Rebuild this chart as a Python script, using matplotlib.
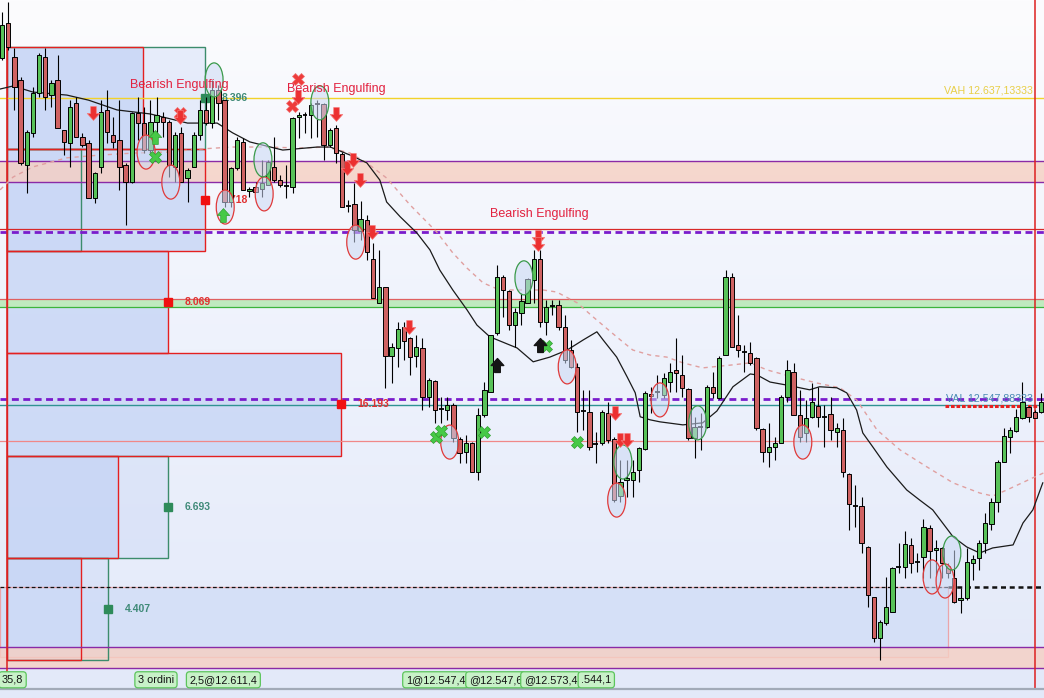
import numpy as np
import matplotlib.pyplot as plt
from matplotlib.colors import LinearSegmentedColormap
from matplotlib.patches import Rectangle, Ellipse
from matplotlib.path import Path

plt.rcParams['font.family'] = ['Liberation Sans', 'DejaVu Sans']

# ---- candles (one per bar, price) ----
opens = [
    12649.0, 12659.4, 12649.3, 12642.5, 12617.3, 12626.8, 12638.6, 12649.3, 12638.0, 12642.5,
    12627.7, 12623.8, 12635.7, 12625.6, 12623.8, 12607.5, 12616.7, 12633.6, 12626.2, 12624.7,
    12617.3, 12612.2, 12632.7, 12629.7, 12621.7, 12630.0, 12631.5, 12630.0, 12616.7, 12626.8,
    12613.4, 12616.7, 12626.2, 12633.6, 12629.7, 12639.5, 12636.5, 12606.3, 12616.4, 12624.1,
    12609.6, 12610.8, 12610.2, 12611.3, 12616.7, 12612.8, 12611.1, 12610.8, 12631.5, 12632.1,
    12632.1, 12635.4, 12635.4, 12623.2, 12628.2, 12620.5, 12605.1, 12605.7, 12597.7, 12601.0,
    12589.4, 12576.4, 12581.1, 12560.6, 12563.0, 12569.2, 12566.0, 12560.6, 12563.0, 12548.5,
    12553.2, 12544.9, 12544.6, 12546.1, 12536.0, 12532.2, 12534.9, 12526.3, 12543.2, 12550.0,
    12567.5, 12584.1, 12579.9, 12569.8, 12573.4, 12576.4, 12583.2, 12589.4, 12570.7, 12575.5,
    12575.8, 12569.2, 12562.4, 12557.4, 12544.3, 12544.0, 12534.6, 12534.9, 12543.7, 12536.0,
    12519.1, 12523.9, 12523.9, 12526.8, 12533.1, 12549.4, 12550.0, 12549.1, 12552.9, 12556.5,
    12555.0, 12550.9, 12536.3, 12539.6, 12539.6, 12551.5, 12548.2, 12560.9, 12584.1, 12563.9,
    12561.8, 12561.5, 12560.1, 12539.0, 12532.2, 12533.7, 12534.9, 12548.5, 12555.9, 12543.2,
    12537.8, 12542.6, 12545.8, 12542.6, 12543.4, 12538.1, 12538.7, 12525.7, 12516.2, 12516.2,
    12504.0, 12489.2, 12477.0, 12481.5, 12484.7, 12498.1, 12498.1, 12504.6, 12499.6, 12501.0,
    12509.6, 12503.1, 12503.7, 12498.4, 12494.8, 12488.3, 12488.9, 12499.3, 12500.8, 12505.2,
    12510.8, 12517.4, 12529.2, 12536.6, 12538.4, 12542.3, 12545.5, 12544.0, 12544.0,
]
highs = [
    12662.6, 12665.6, 12652.0, 12643.4, 12627.7, 12640.4, 12650.5, 12652.0, 12642.5, 12649.9,
    12627.7, 12636.5, 12637.4, 12626.8, 12624.7, 12615.2, 12636.5, 12639.5, 12631.5, 12636.5,
    12617.9, 12633.0, 12637.4, 12634.5, 12636.5, 12637.4, 12633.0, 12630.6, 12627.1, 12628.5,
    12616.4, 12627.1, 12636.5, 12637.4, 12642.5, 12641.0, 12636.5, 12616.7, 12625.6, 12625.3,
    12610.8, 12612.2, 12618.8, 12618.8, 12625.6, 12614.3, 12617.3, 12631.5, 12633.0, 12633.0,
    12635.7, 12636.5, 12635.7, 12628.2, 12629.1, 12621.1, 12606.9, 12611.9, 12606.6, 12602.5,
    12594.2, 12592.1, 12581.1, 12564.5, 12570.7, 12570.7, 12566.3, 12566.9, 12566.0, 12554.1,
    12553.5, 12548.5, 12548.5, 12546.7, 12536.6, 12537.2, 12535.1, 12545.2, 12552.9, 12566.9,
    12587.6, 12584.7, 12580.2, 12574.9, 12579.3, 12583.8, 12592.1, 12592.1, 12577.2, 12577.2,
    12577.2, 12572.8, 12565.4, 12558.6, 12550.6, 12550.6, 12538.1, 12544.6, 12547.0, 12536.6,
    12529.8, 12529.8, 12529.8, 12533.7, 12550.3, 12551.5, 12555.0, 12555.6, 12558.6, 12566.0,
    12560.9, 12551.2, 12542.6, 12543.7, 12552.0, 12555.9, 12560.6, 12586.1, 12585.3, 12572.8,
    12563.9, 12564.8, 12560.3, 12539.3, 12540.8, 12536.6, 12549.1, 12559.5, 12558.6, 12550.6,
    12547.6, 12552.6, 12551.5, 12546.1, 12548.5, 12540.8, 12542.3, 12526.0, 12522.4, 12518.8,
    12504.3, 12489.2, 12482.4, 12495.1, 12498.1, 12505.2, 12508.8, 12506.7, 12502.2, 12512.3,
    12510.5, 12506.1, 12504.0, 12499.3, 12503.1, 12491.9, 12503.7, 12501.6, 12506.1, 12514.1,
    12518.5, 12529.8, 12539.3, 12539.6, 12544.9, 12552.9, 12545.8, 12544.6, 12549.7,
]
lows = [
    12648.4, 12651.4, 12633.6, 12617.3, 12609.0, 12625.6, 12637.4, 12633.6, 12634.5, 12628.2,
    12620.2, 12616.7, 12625.6, 12622.6, 12607.5, 12606.0, 12614.9, 12623.8, 12622.3, 12609.9,
    12599.5, 12611.9, 12624.7, 12620.8, 12620.8, 12624.7, 12625.6, 12613.7, 12612.2, 12612.2,
    12606.3, 12616.7, 12624.7, 12629.1, 12628.2, 12630.6, 12604.8, 12604.8, 12615.8, 12609.9,
    12607.8, 12609.3, 12607.8, 12611.3, 12612.2, 12610.8, 12607.5, 12609.0, 12625.3, 12626.8,
    12625.3, 12625.6, 12618.8, 12622.6, 12617.9, 12604.8, 12603.3, 12594.4, 12595.0, 12589.1,
    12577.8, 12576.4, 12551.2, 12552.6, 12557.4, 12559.5, 12555.0, 12557.4, 12544.6, 12545.5,
    12540.8, 12540.8, 12541.7, 12535.1, 12528.9, 12528.9, 12526.3, 12523.9, 12542.6, 12550.0,
    12566.9, 12572.2, 12568.4, 12563.3, 12569.8, 12576.4, 12576.4, 12569.2, 12566.9, 12572.8,
    12568.4, 12558.6, 12557.1, 12538.1, 12538.7, 12532.8, 12528.9, 12534.3, 12534.9, 12517.4,
    12517.4, 12518.8, 12518.8, 12523.3, 12532.8, 12543.7, 12548.2, 12548.2, 12550.0, 12550.0,
    12548.5, 12535.7, 12530.4, 12532.8, 12539.3, 12548.2, 12547.9, 12560.9, 12563.3, 12560.3,
    12555.9, 12558.0, 12538.7, 12529.2, 12527.7, 12529.8, 12534.9, 12547.0, 12543.2, 12535.1,
    12535.1, 12542.3, 12539.6, 12533.7, 12535.7, 12533.7, 12524.8, 12509.1, 12509.9, 12502.2,
    12486.2, 12475.8, 12470.5, 12480.9, 12484.7, 12496.3, 12494.8, 12496.3, 12496.6, 12494.8,
    12494.8, 12495.7, 12494.8, 12494.8, 12487.4, 12484.4, 12488.3, 12494.2, 12497.2, 12502.2,
    12509.1, 12514.4, 12529.2, 12531.9, 12538.1, 12542.0, 12541.1, 12542.3, 12543.7,
]
closes = [
    12658.8, 12652.3, 12640.4, 12617.9, 12627.1, 12638.6, 12649.9, 12637.4, 12641.6, 12628.2,
    12624.1, 12634.5, 12625.6, 12623.2, 12607.5, 12614.9, 12633.0, 12627.1, 12624.1, 12616.7,
    12612.2, 12632.7, 12629.7, 12621.7, 12630.0, 12632.1, 12630.0, 12617.3, 12626.2, 12612.2,
    12615.8, 12626.2, 12633.6, 12629.7, 12639.5, 12635.7, 12606.3, 12616.4, 12624.7, 12609.9,
    12610.2, 12609.3, 12611.9, 12618.2, 12612.8, 12611.3, 12611.1, 12631.2, 12632.1, 12632.1,
    12635.1, 12635.4, 12623.2, 12627.7, 12620.8, 12604.8, 12605.1, 12598.0, 12601.3, 12591.5,
    12577.8, 12581.1, 12560.6, 12563.3, 12568.7, 12565.1, 12560.3, 12563.3, 12548.5, 12553.5,
    12544.6, 12544.9, 12546.1, 12536.3, 12531.9, 12534.9, 12526.3, 12543.2, 12550.6, 12566.9,
    12584.1, 12580.2, 12569.8, 12573.7, 12577.0, 12583.5, 12589.4, 12570.7, 12575.2, 12575.5,
    12569.2, 12559.5, 12557.4, 12544.0, 12544.3, 12533.7, 12534.9, 12544.0, 12535.7, 12517.9,
    12523.3, 12524.5, 12526.3, 12533.4, 12549.7, 12548.8, 12550.0, 12554.1, 12555.9, 12555.6,
    12551.2, 12536.3, 12539.6, 12539.6, 12551.5, 12549.7, 12560.1, 12584.1, 12563.3, 12562.4,
    12561.8, 12558.6, 12539.3, 12532.2, 12533.7, 12534.9, 12548.5, 12556.5, 12543.2, 12536.6,
    12542.3, 12547.0, 12542.6, 12542.6, 12538.7, 12539.3, 12526.3, 12516.8, 12516.2, 12505.2,
    12489.8, 12477.0, 12481.8, 12486.2, 12497.8, 12498.1, 12504.9, 12499.3, 12499.6, 12509.9,
    12502.8, 12503.7, 12499.3, 12496.3, 12487.7, 12488.9, 12499.6, 12500.5, 12505.2, 12511.1,
    12517.4, 12529.2, 12536.9, 12538.7, 12542.6, 12547.0, 12542.6, 12542.3, 12547.0,
]

# ---- moving averages (bar index, price) ----
fast_ma_bar = [-0.3, 1.8, 5.0, 10.5, 14.0, 18.6, 24.0, 30.0, 34.8, 37.3, 40.1, 45.4, 51.0, 53.1,
               56.3, 59.0, 61.1, 62.2, 64.4, 67.1, 69.2, 70.8, 72.9, 75.2, 76.8, 78.9, 83.3, 85.9,
               88.6, 91.4, 94.0, 96.2, 97.2, 99.4, 101.1, 102.4, 103.2, 104.8, 106.4, 110.1, 113.3,
               115.6, 118.2, 121.0, 122.1, 124.2, 126.9, 130.6, 132.2, 135.0, 136.6, 138.2, 139.2,
               140.8, 143.1, 146.3, 148.4, 150.5, 153.8, 156.0, 158.1, 160.2, 163.5, 165.1, 166.7, 168.3]
fast_ma = [12639.8, 12640.7, 12638.9, 12638.0, 12636.5, 12633.6, 12632.4, 12629.7, 12629.7, 12626.8,
           12624.1, 12621.7, 12622.6, 12622.6, 12620.2, 12617.9, 12612.8, 12606.3, 12601.9, 12597.1,
           12592.1, 12586.1, 12580.2, 12574.3, 12569.8, 12566.3, 12563.0, 12558.9, 12560.3, 12562.4,
           12565.4, 12567.8, 12565.4, 12560.3, 12554.4, 12549.7, 12542.6, 12541.7, 12541.1, 12540.2,
           12540.8, 12544.3, 12551.5, 12555.3, 12555.0, 12552.9, 12552.0, 12550.6, 12551.5, 12551.2,
           12549.7, 12544.6, 12537.8, 12533.7, 12527.7, 12520.9, 12517.9, 12515.0, 12507.0, 12504.0,
           12502.2, 12503.7, 12504.6, 12511.1, 12515.0, 12523.0]
slow_ma_bar = [-0.3, 1.8, 5.0, 10.5, 15.8, 21.2, 26.7, 32.0, 37.3, 42.8, 48.2, 52.5, 56.3, 59.0,
               62.2, 66.0, 70.3, 72.9, 75.2, 77.8, 80.5, 84.2, 87.5, 89.7, 93.0, 95.6, 99.4, 102.0,
               104.8, 107.5, 110.1, 113.3, 118.2, 121.0, 123.7, 127.9, 131.8, 135.5, 138.2, 141.5,
               145.2, 149.6, 153.8, 158.1, 160.2, 162.5, 166.7, 168.5]
slow_ma = [12609.9, 12613.7, 12616.7, 12619.4, 12620.2, 12620.8, 12621.1, 12622.0, 12622.6, 12622.6,
           12622.3, 12622.6, 12620.8, 12617.9, 12613.4, 12605.4, 12597.4, 12591.2, 12586.7, 12582.3,
           12580.2, 12580.2, 12580.2, 12579.6, 12576.4, 12572.2, 12566.3, 12562.4, 12560.9, 12560.3,
           12558.6, 12557.1, 12558.0, 12558.6, 12556.5, 12554.4, 12552.6, 12551.2, 12547.6, 12538.7,
           12532.8, 12527.7, 12523.0, 12520.0, 12519.1, 12520.9, 12524.5, 12526.0]

# ---- levels ----
vah = 12637.13333
val = 12547.88333
supply_zone = (12612.2, 12618.5)
demand_zone = (12575.2, 12577.5)
low_zone = (12468.1, 12474.4)
red_level_hi = 12598.3
dashed_level_hi = 12597.4
poc_level = 12546.1
red_level_lo = 12535.4
black_dashed_level = 12492.2
value_box_bottom = 12471.4

# ---- session volume profile ----
row_edges = [12652.3, 12622.0, 12591.7, 12561.4, 12531.1, 12500.8, 12470.5]
sell_vol = [6.6, 9.6, 7.8, 16.2, 5.4, 3.6]
buy_vol = [9.6, 3.6, 0, 0, 7.8, 4.9]
sell_labels = [None, '8.718', '8.069', '16.193', None, None]
buy_labels = ['8.396', None, None, None, '6.693', '4.407']

# ---- signals (bar index, price) ----
sell_arrow_bar = [14.7, 28.8, 47.9, 54.0, 55.8, 56.7, 57.9, 59.8, 65.8, 86.7, 86.7, 99.1, 99.9, 101.1]
sell_arrow_px = [12632.7, 12631.5, 12637.4, 12632.4, 12616.4, 12618.8, 12612.8, 12597.4, 12569.2,
                 12595.9, 12593.9, 12543.7, 12535.7, 12535.7]
sell_cross_bar = [28.8, 47.9, 46.9]
sell_cross_px = [12632.7, 12642.8, 12634.8]
buy_arrow_bar = [24.7, 35.7]
buy_arrow_px = [12625.6, 12602.5]
buy_cross_bar = [24.7, 70.2, 71.0, 77.9, 88.0, 93.0]
buy_cross_px = [12619.7, 12536.6, 12538.4, 12538.1, 12563.6, 12535.1]
black_arrow_bar = [80.0, 87.0]
black_arrow_px = [12558.0, 12563.9]
red_circle_bar = [23.3, 27.3, 36.1, 42.4, 57.2, 72.4, 91.4, 99.4, 106.4, 129.5, 150.4, 152.5]
red_circle_px = [12621.1, 12612.2, 12604.8, 12608.7, 12594.4, 12535.1, 12557.4, 12517.9, 12547.6,
                 12535.1, 12495.1, 12493.9]
green_circle_bar = [34.3, 42.2, 51.4, 84.4, 100.4, 112.5, 153.6]
green_circle_px = [12642.5, 12618.8, 12635.7, 12583.8, 12529.2, 12540.8, 12502.2]
pattern_bar = [20.7, 46.1, 78.9]
pattern_px = [12641.0, 12639.8, 12602.8]
pattern_name = 'Bearish Engulfing'

# ---- order tags along the bottom ----
order_text = ['35,8', '3 ordini', '2,5@12.611,4', '1@12.547,4', '@12.547,6', '@12.573,4', '.544,1']
order_bar = [1.7, 24.9, 35.8, 70.1, 79.8, 88.7, 96.1]

# ---------------------------------------------------------------
x_lo, x_hi = -0.32, 168.5
y_lo, y_hi = 12459.2, 12666.2
bars = np.arange(len(opens))

fig = plt.figure(figsize=(10.44, 6.98), dpi=100)
ax = fig.add_axes([0, 0, 1, 1])
ax.axis('off')

# background gradient
bg = LinearSegmentedColormap.from_list('bg', ['#e3e9f9', '#eef2fc', '#fcfcfe'])
ax.imshow(np.linspace(0, 1, 256).reshape(-1, 1), cmap=bg, origin='lower',
          extent=[x_lo, x_hi, y_lo, y_hi], aspect='auto', zorder=0)

# volume profile of the session
px0 = 0.8
unit = 3.33
for i in range(6):
    top, bot = row_edges[i], row_edges[i + 1]
    mid = (top + bot) / 2
    if buy_vol[i] > 0:
        w = buy_vol[i] * unit
        ax.add_patch(Rectangle((px0, bot), w, top - bot, facecolor='#c4d3f5', alpha=0.35,
                               edgecolor='none', zorder=1))
        ax.add_patch(Rectangle((px0, bot), w, top - bot, fill=False, edgecolor='#3c8c6c',
                               lw=1.0, zorder=1.6))
    w = sell_vol[i] * unit
    ax.add_patch(Rectangle((px0, bot), w, top - bot, facecolor='#c4d3f5', alpha=0.75,
                           edgecolor='none', zorder=1))
    ax.add_patch(Rectangle((px0, bot), w, top - bot, fill=False, edgecolor='#e42020',
                           lw=1.0, zorder=1.7))
    if sell_labels[i]:
        ax.plot(px0 + w, mid, 's', ms=6, color='#f01010', zorder=3.5)
        ax.text(px0 + w + 2.75, mid, sell_labels[i], color='#e03030', fontsize=7.5,
                fontweight='bold', va='center', ha='left', zorder=3.5)
    if buy_labels[i]:
        bw = buy_vol[i] * unit
        ax.plot(px0 + bw, mid, 's', ms=6, color='#2e8b5a', zorder=3.5)
        ax.text(px0 + bw + 2.75, mid, buy_labels[i], color='#3f8a78', fontsize=7.5,
                fontweight='bold', va='center', ha='left', zorder=3.5)

# value area box at the bottom
ax.add_patch(Rectangle((x_lo, value_box_bottom), 153.0 - x_lo, black_dashed_level - value_box_bottom,
                       facecolor='#cfdcf7', alpha=0.7, edgecolor='#f08a8a', lw=0.9, zorder=1.2))

# zones
for lo_, hi_ in (supply_zone, low_zone):
    ax.axhspan(lo_, hi_, facecolor='#f6cfc2', alpha=0.8, zorder=1.3)
    ax.axhline(lo_, color='#8a2aa6', lw=1.0, zorder=2)
    ax.axhline(hi_, color='#8a2aa6', lw=1.0, zorder=2)
ax.axhspan(demand_zone[0], demand_zone[1], facecolor='#bfeabf', zorder=1.3)
ax.axhline(demand_zone[1], color='#e06060', lw=0.9, zorder=2)
ax.axhline(demand_zone[0], color='#3cb43c', lw=0.9, zorder=2)

# levels
ax.axhline(vah, color='#f2d22a', lw=1.0, zorder=2)
ax.axhline(red_level_hi, color='#d82828', lw=0.9, zorder=2)
ax.axhline(dashed_level_hi, color='#7a1ccc', lw=2.0, ls=(0, (2.5, 1.6)), zorder=2.2)
ax.axhline(val, color='#7a1ccc', lw=2.0, ls=(0, (2.5, 1.6)), zorder=2.2)
ax.axhline(poc_level, color='#2f9393', lw=1.0, zorder=2)
ax.axhline(red_level_lo, color='#f08888', lw=0.9, zorder=2)
ax.plot([x_lo, 153.0], [black_dashed_level] * 2, color='#111111', lw=0.9, ls=(0, (3, 2)), zorder=2.3)
ax.plot([153.0, x_hi], [black_dashed_level] * 2, color='#111111', lw=1.8, ls=(0, (2, 1.5)), zorder=2.3)
ax.plot([152.5, x_hi], [12545.8] * 2, color='#e82020', lw=2.2, ls=(0, (1.2, 0.6)), zorder=2.4)

# session separators
ax.plot([px0, px0], [row_edges[0], 12461.9], color='#dd2020', lw=1.1, zorder=2.5)
ax.plot([167.0, 167.0], [y_hi, 12461.9], color='#dd2020', lw=1.1, zorder=2.5)
ax.axhline(12461.9, color='#a2aab8', lw=1.6, zorder=2.5)

# moving averages
ax.plot(slow_ma_bar, slow_ma, color='#e0a0a0', lw=1.0, ls=(0, (3, 3)), zorder=3)
ax.plot(fast_ma_bar, fast_ma, color='#1a1a1a', lw=0.9, zorder=3)

# candles
o = np.array(opens); h = np.array(highs); l = np.array(lows); c = np.array(closes)
ax.vlines(bars, l, h, colors='black', lw=0.8, zorder=4)
body = c - o
doji = np.abs(body) < 0.4
up = (body > 0) & ~doji
dn = (body < 0) & ~doji
ax.bar(bars[up], body[up], bottom=o[up], width=0.7, color='#58c258', edgecolor='black',
       linewidth=0.7, zorder=4.5)
ax.bar(bars[dn], body[dn], bottom=o[dn], width=0.7, color='#cf6262', edgecolor='black',
       linewidth=0.7, zorder=4.5)
ax.hlines(o[doji], bars[doji] - 0.4, bars[doji] + 0.4, colors='black', lw=1.3, zorder=4.5)

# circles around setups
for bx, py in zip(red_circle_bar, red_circle_px):
    ax.add_patch(Ellipse((bx, py), 2.9, 10.1, facecolor='#cbd9f4', alpha=0.55,
                         edgecolor='none', zorder=5))
    ax.add_patch(Ellipse((bx, py), 2.9, 10.1, fill=False, edgecolor='#e03a3a', lw=0.9, zorder=5.1))
for bx, py in zip(green_circle_bar, green_circle_px):
    ax.add_patch(Ellipse((bx, py), 2.9, 10.1, facecolor='#cbd9f4', alpha=0.55,
                         edgecolor='none', zorder=5))
    ax.add_patch(Ellipse((bx, py), 2.9, 10.1, fill=False, edgecolor='#3a9a4a', lw=0.9, zorder=5.1))

# signal markers
down_arrow = Path([(-0.2, 0.5), (0.2, 0.5), (0.2, 0.0), (0.45, 0.0), (0.0, -0.5),
                   (-0.45, 0.0), (-0.2, 0.0), (-0.2, 0.5)],
                  [Path.MOVETO] + [Path.LINETO] * 6 + [Path.CLOSEPOLY])
up_arrow = Path(down_arrow.vertices * np.array([1, -1]), down_arrow.codes)
ax.plot(sell_cross_bar, sell_cross_px, 'X', ms=9, color='#ee3b3b', mec='#f07070', mew=0.5,
        ls='none', zorder=6)
ax.plot(sell_arrow_bar, sell_arrow_px, marker=down_arrow, ms=10, color='#ec3030', mec='#f57a7a',
        mew=0.5, ls='none', zorder=6.1)
ax.plot(buy_cross_bar, buy_cross_px, 'X', ms=9, color='#47c947', mec='#2f9f2f', mew=0.5,
        ls='none', zorder=6)
ax.plot(buy_arrow_bar, buy_arrow_px, marker=up_arrow, ms=10, color='#47c947', mec='#2f9f2f',
        mew=0.5, ls='none', zorder=6.1)
ax.plot(black_arrow_bar, black_arrow_px, marker=up_arrow, ms=10, color='#151515', ls='none',
        zorder=6.1)

# pattern labels
for bx, py in zip(pattern_bar, pattern_px):
    ax.text(bx, py, pattern_name, color='#e2213f', fontsize=9, ha='left', va='center', zorder=7)

# value area labels
ax.text(166.7, vah + 2.1, 'VAH 12.637,13333', color='#e8cf48', fontsize=7.7, ha='right',
        va='center', zorder=7)
ax.text(166.7, val, 'VAL 12.547,88333', color='#4a8ab4', fontsize=7.7, ha='right',
        va='center', zorder=7)

# order tags
for bx, txt in zip(order_bar, order_text):
    ax.text(bx, 12464.6, txt, fontsize=7.8, color='#111111', ha='center', va='center', zorder=8,
            bbox=dict(boxstyle='round,pad=0.28,rounding_size=0.3', fc='#c8f1c8', ec='#5cc45c', lw=0.9))

ax.set_xlim(x_lo, x_hi)
ax.set_ylim(y_lo, y_hi)
fig.savefig('out.png', dpi=100)
